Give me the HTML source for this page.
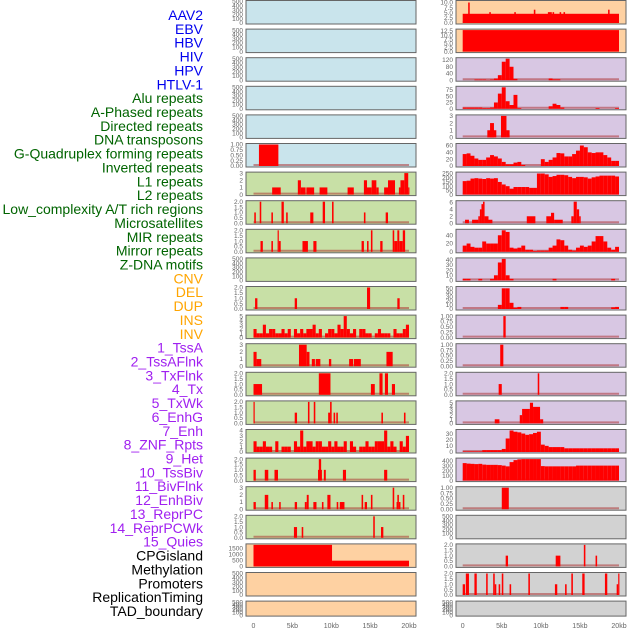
<!DOCTYPE html>
<html><head><meta charset="utf-8"><style>
html,body{margin:0;padding:0;background:#fff;}
svg{display:block;font-family:"Liberation Sans",sans-serif;}
</style></head><body>
<svg id="chart" width="630" height="630" viewBox="0 0 630 630" xmlns="http://www.w3.org/2000/svg"></svg>
<script>
// ---------- data ----------
const labelNames = ["AAV2","EBV","HBV","HIV","HPV","HTLV-1","Alu repeats","A-Phased repeats","Directed repeats","DNA transposons","G-Quadruplex forming repeats","Inverted repeats","L1 repeats","L2 repeats","Low_complexity A/T rich regions","Microsatellites","MIR repeats","Mirror repeats","Z-DNA motifs","CNV","DEL","DUP","INS","INV","1_TssA","2_TssAFlnk","3_TxFlnk","4_Tx","5_TxWk","6_EnhG","7_Enh","8_ZNF_Rpts","9_Het","10_TssBiv","11_BivFlnk","12_EnhBiv","13_ReprPC","14_ReprPCWk","15_Quies","CPGisland","Methylation","Promoters","ReplicationTiming","TAD_boundary"];
const labelGroups = ["v","v","v","v","v","v","r","r","r","r","r","r","r","r","r","r","r","r","r","s","s","s","s","s","c","c","c","c","c","c","c","c","c","c","c","c","c","c","c","o","o","o","o","o"];
const xTickValues = [0,5,10,15,20];
const xTickLabels = ["0","5kb","10kb","15kb","20kb"];
const midBg = ["b","b","b","b","b","b","g","g","g","g","g","g","g","g","g","g","g","g","g","o","o","o"];
const rightBg = ["o","o","p","p","p","p","p","p","p","p","p","p","p","p","p","p","p","y","y","y","y","y"];
const midTicks = [[0,100,200,300,400,500],[0,100,200,300,400,500],[0,100,200,300,400,500],[0,100,200,300,400,500],[0,100,200,300,400,500],["0.00","0.25","0.50","0.75","1.00"],[0,1,2,3],["0.0","0.5","1.0","1.5","2.0"],["0.0","0.5","1.0","1.5","2.0"],[0,100,200,300,400,500],["0.0","0.5","1.0","1.5","2.0"],[0,1,2,3,4,5],[0,1,2,3],["0.0","0.5","1.0","1.5","2.0"],["0.0","0.5","1.0","1.5","2.0"],[0,1,2,3,4],["0.0","0.5","1.0","1.5","2.0"],[0,1,2,3],["0.0","0.5","1.0","1.5","2.0"],[0,500,1000,1500],[0,100,200,300,400,500],[0,100,200,300,400,500]];
const midYmax = [500,500,500,500,500,1,3,2,2,500,2,5,3,2,2,4,2,3,2,1800,500,500];
const rightTicks = [["0.0","2.5","5.0","7.5","10.0"],["0.0","2.5","5.0","7.5","10.0","12.5"],[0,40,80,120],[0,25,50,75],[0,1,2,3],[0,20,40,60],[0,50,100,150,200,250],[0,2,4,6],[0,20,40],[0,10,20,30,40],[0,10,20,30,40,50],["0.00","0.25","0.50","0.75","1.00"],["0.00","0.25","0.50","0.75","1.00"],["0.0","0.5","1.0","1.5","2.0"],[0,1,2,3,4,5],[0,10,20,30],[0,100,200,300,400],["0.00","0.25","0.50","0.75","1.00"],[0,100,200,300,400,500],["0.0","0.5","1.0","1.5","2.0"],["0.0","0.5","1.0","1.5","2.0"],[0,100,200,300,400,500]];
const rightYmax = [10.5,13,128,85,3,63,255,6.2,52,42,52,1,1,2,5.2,35,430,1,500,2,2,500];

// mid column series: segments [startKb, endKb, value] or bins (0.4kb)
const midSegs = [
 [],[],[],[],[],
 [[0.7,3.2,1]],
 [[2.4,3.5,1],[5.7,6.1,2],[6.1,6.7,1],[6.8,7.8,1],[8.5,9.5,1],[12.1,12.9,1],[14.2,14.6,2],[14.6,15.2,1],[15.2,15.8,2],[15.8,16.1,1],[16.8,17.5,1],[17.3,18.2,2],[18.7,18.9,1],[18.9,19.4,2],[19.4,19.9,3],[19.9,20,1]],
 [[0.1,0.3,1],[0.8,1.0,2],[2.3,2.5,1],[3.6,3.9,2],[4.2,4.4,1],[7.3,7.7,1],[8.9,9.2,2],[10.1,10.3,2],[14.2,14.4,1],[17.0,17.3,1]],
 [[0.9,1.2,1],[2.3,2.5,1],[3.1,3.25,2],[3.25,3.5,1],[6.3,7.0,1],[7.7,8.1,1],[13.9,14.2,1],[14.6,14.8,1],[15.1,15.3,2],[16.3,16.6,1],[17.9,18.1,2],[18.1,18.5,1],[18.5,18.75,2],[18.75,19.2,1],[19.2,19.5,2]],
 [],
 [[0.2,0.5,1],[5.3,5.6,1],[14.6,15.0,2],[18.5,18.8,1]],
 null,
 [[0,0.4,2],[0.4,1.0,1],[5.85,6.84,3],[6.84,7.2,2],[7.5,7.9,1],[8.0,8.6,1],[9.7,10.0,1],[12.3,12.8,1],[12.9,13.8,1],[17.1,17.9,2]],
 [[0,1.1,1],[8.4,9.9,2],[15.1,15.6,1],[16.2,16.6,2],[16.9,17.3,2],[17.8,18.2,1]],
 [[0,0.15,2],[5.3,5.6,1],[7.0,7.2,2],[7.75,7.95,2],[9.6,9.85,1],[9.85,10.05,2],[10.3,10.5,1],[10.65,10.85,1],[16.45,16.65,1],[19.35,19.55,1]],
 null,
 [[0,0.3,1],[1.45,1.9,1],[2.7,3.15,1],[8.3,8.8,1],[8.4,8.7,2],[9.05,9.3,1],[11.5,11.9,1],[16.8,17.2,1]],
 [[0,0.3,1],[1.45,1.9,2],[2.3,2.5,1],[3.3,3.5,1],[5.3,5.6,1],[6.6,6.85,1],[6.85,7.1,2],[7.7,8.1,1],[8.8,9.0,1],[9.5,9.9,2],[10.7,10.9,1],[11.1,11.7,1],[13.9,14.1,2],[14.3,14.6,1],[15.1,15.3,2],[17.9,18.1,3],[18.4,18.5,1],[18.5,18.7,2],[18.7,18.9,1],[19.2,19.4,2]],
 [[5.2,5.6,1],[6.2,6.4,1],[15.4,15.6,2],[16.4,16.7,1]],
 [[0,10.1,1800],[10.1,20,480]],
 [],[]
];
const midBins11 = [2,1,1,3,1,2,2,1,1,2,1,2,0,2,1,2,1,2,2,3,1,2,0,1,2,2,1,3,2,5,2,1,2,0,2,2,1,1,0,1,2,1,1,1,0,2,1,1,2,3];
const midBins15 = [2,1,1,2,1,1,0,2,0,1,1,1,0,2,1,4,1,2,2,1,2,2,1,1,2,1,2,1,1,2,0,2,1,0,1,1,2,1,1,2,2,2,4,1,2,1,0,2,1,3];

// right column: 0.5kb bins (40 values) or segments
const rightBins2 = [0,0,0,4,4,4,2,4,10,30,110,128,80,8,0,0,0,0,0,0,0,0,10,5,5,0,0,0,0,0,0,0,0,0,0,0,0,0,0,0];
const rightBins3 = [5,5,5,5,5,3,3,5,25,60,85,30,15,55,3,0,0,0,0,0,0,0,10,20,15,5,0,0,0,0,0,0,0,0,3,0,0,0,0,3];
const rightBins5 = [35,37,30,22,18,18,25,32,28,22,12,5,5,10,12,3,0,0,0,0,20,12,18,25,38,37,28,28,35,45,60,55,40,38,40,40,32,25,15,15];
const rightBins6 = [160,165,190,195,190,185,195,190,195,150,120,100,70,90,90,90,90,80,80,250,250,240,210,220,235,235,230,210,195,210,210,205,190,205,215,225,225,225,225,215];
const rightBins8 = [15,20,12,10,10,25,20,20,20,40,52,48,10,8,10,15,5,5,2,3,3,3,10,15,30,28,15,5,3,10,15,12,15,25,38,38,25,10,5,12];
const rightBins9 = [3,3,0,0,3,0,0,3,10,35,42,10,3,0,0,0,0,0,0,0,0,0,0,3,0,0,0,0,0,0,0,0,0,0,0,0,0,0,3,0];
const rightBins10 = [0,0,0,0,0,0,0,0,0,10,50,50,15,3,5,0,0,0,0,0,0,0,0,0,0,5,5,0,0,0,0,0,0,0,0,0,0,0,4,5];
const rightBins15 = [1,1,1,1,1,3,3,3,3,3,5,22,35,33,32,30,28,29,31,33,12,10,8,8,8,8,6,6,6,6,6,6,6,6,6,6,6,6,6,6];
const rightBins16 = [350,340,335,330,335,320,315,315,315,310,300,285,370,410,425,430,430,430,430,430,290,285,285,285,285,285,285,285,285,300,300,300,300,300,300,300,300,300,300,300];
const rightSegs = {
 0: [[0,20,4.5],[0.7,0.9,10],[3.4,3.6,5.3],[6.6,6.8,5.3],[9.1,9.3,6.5],[10.9,11.4,5.3],[11.5,11.7,5.3],[12.4,12.6,5.3],[12.9,13.1,5.3],[18.6,18.8,6.5]],
 1: [[0,20,13]],
 4: [[3.15,4.3,1],[3.5,4.0,2],[4.9,5.6,3],[5.6,6.0,1]],
 7: [[0.3,0.8,1],[1.2,2.0,1],[2.0,2.2,2],[2.2,2.4,4],[2.4,2.6,5.5],[2.6,2.8,6.2],[2.8,3.3,2],[3.3,3.8,1],[8.2,9.3,2],[10.7,11.3,2],[11.3,11.7,3],[11.7,12.8,1],[13.9,14.2,2],[14.2,14.6,6.2],[14.6,14.9,4],[14.9,15.1,2]],
 11: [[5.2,5.5,1]],
 12: [[4.8,5.2,1]],
 13: [[4.6,5.0,1],[9.6,9.8,2]],
 14: [[4.1,4.7,1],[7.3,7.6,2],[7.6,8.6,3.5],[8.6,9.0,5],[9.0,9.9,4],[9.9,10.3,1]],
 17: [[5.0,5.9,1]],
 18: [],
 19: [[5.5,5.8,1],[11.9,12.5,1],[15.5,15.7,2],[17.0,17.2,1]],
 20: [[0,0.3,1],[0.4,0.8,2],[1.5,1.8,2],[3.0,3.2,2],[3.9,4.1,2],[4.1,4.3,1],[4.6,4.8,1],[5.0,5.2,2],[6.0,6.2,1],[8.4,8.6,2],[11.8,12.1,1],[13.1,13.3,1],[13.9,14.1,2],[15.3,15.6,2],[18.2,18.5,2],[19.7,19.9,1],[19.9,20,2]],
 21: []
};
const rightBinsMap = {2:rightBins2,3:rightBins3,5:rightBins5,6:rightBins6,8:rightBins8,9:rightBins9,10:rightBins10,15:rightBins15,16:rightBins16};

// ---------- drawing ----------
const NS = "http://www.w3.org/2000/svg";
const svg = document.getElementById("chart");
const bgColors = {b:"#c9e4ec",g:"#c8e0a6",o:"#fed1a2",p:"#d8c7e3",y:"#d2d2d2"};
const groupColors = {v:"#0000ee",r:"#006400",s:"#ffa500",c:"#a020f0",o:"#000000"};
function mk(tag, attrs, parent){const e=document.createElementNS(NS,tag);for(const k in attrs)e.setAttribute(k,attrs[k]);(parent||svg).appendChild(e);return e;}

// labels
labelNames.forEach((name,i)=>{
  const t = mk("text",{x:203,y:(15+i*13.86+5).toFixed(1),"text-anchor":"end","font-size":"14",fill:groupColors[labelGroups[i]]});
  
  
  t.textContent = name;
});

const cols = [
  {x0:246,x1:416,kb0:253.5,kb20:409,tickX:243,bg:midBg,ticks:midTicks,ymax:midYmax,name:"left"},
  {x0:456,x1:626,kb0:462.7,kb20:619,tickX:453,bg:rightBg,ticks:rightTicks,ymax:rightYmax,name:"right"}
];
function rowTop(r){return r*28.6;}
function rowH(r){return r===21?16:24.5;}

cols.forEach((c,ci)=>{
  const xs = kb=>c.kb0+(c.kb20-c.kb0)*kb/20;
  for(let r=0;r<22;r++){
    const top=rowTop(r), h=rowH(r), bot=top+h;
    const g = mk("g",{});
    
    
    mk("rect",{x:c.x0,y:top+0.5,width:c.x1-c.x0,height:h-1,fill:bgColors[c.bg[r]],stroke:"#666","stroke-width":"1"},g);
    const ymax=c.ymax[r];
    const ys = v=>bot-1.5-(h-3)*v/ymax;
    // ticks
    const tks=c.ticks[r];
    const tmax=parseFloat(tks[tks.length-1]);
    tks.forEach(tv=>{
      const v=parseFloat(tv);
      const yy = bot-1.5-(h-3)*(v/ymax);
      const t=mk("text",{x:c.tickX,y:(yy+2.2).toFixed(1),"text-anchor":"end","font-size":"6.5",fill:"#666"},g);
      
      
      t.textContent=String(tv);
    });
    // series
    let segs=[];
    if(ci===0){
      if(r===11) midBins11.forEach((v,i)=>segs.push([i*0.4,(i+1)*0.4,v]));
      else if(r===15) midBins15.forEach((v,i)=>segs.push([i*0.4,(i+1)*0.4,v]));
      else segs=midSegs[r]||[];
    } else {
      if(rightBinsMap[r]) rightBinsMap[r].forEach((v,i)=>segs.push([i*0.5,(i+1)*0.5,v]));
      else segs=rightSegs[r]||[];
    }
    const hasData = !(ci===0 && ymax===500) && !(ci===1 && ymax===500);
    if(hasData) mk("line",{x1:xs(0),x2:xs(20),y1:bot-2.5,y2:bot-2.5,stroke:"rgba(170,40,40,0.5)","stroke-width":"2"},g);
    segs.forEach(s=>{
      if(s[2]<=0) return;
      const y=Math.max(ys(s[2]),top+1);
      const b=mk("rect",{x:xs(s[0]).toFixed(2),y:y.toFixed(2),width:Math.max(xs(s[1])-xs(s[0]),1.2).toFixed(2),height:(bot-1.5-y).toFixed(2),fill:"#ff0000"},g);
      
      
    });
  }
  // x ticks
  xTickValues.forEach((v,i)=>{
    const t=mk("text",{x:xs(v).toFixed(1),y:628,"text-anchor":"middle","font-size":"7",fill:"#666"});
    
    
    t.textContent=xTickLabels[i];
  });
});
</script>
</body></html>
